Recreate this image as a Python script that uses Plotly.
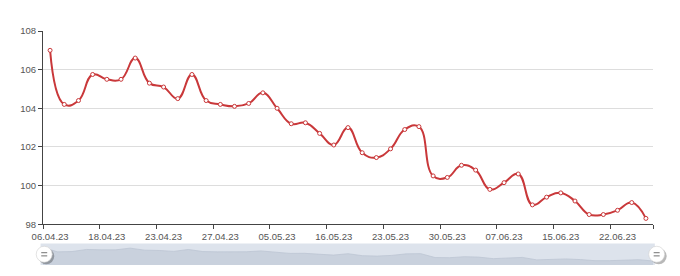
import plotly.graph_objects as go

dates = ["06.04.23", "10.04.23", "12.04.23", "14.04.23", "18.04.23", "19.04.23", "20.04.23",
         "21.04.23", "23.04.23", "24.04.23", "25.04.23", "26.04.23", "27.04.23", "28.04.23",
         "02.05.23", "03.05.23", "05.05.23", "10.05.23", "11.05.23", "12.05.23", "16.05.23",
         "18.05.23", "19.05.23", "22.05.23", "23.05.23", "24.05.23", "25.05.23", "26.05.23",
         "30.05.23", "01.06.23", "02.06.23", "06.06.23", "07.06.23", "08.06.23", "09.06.23",
         "14.06.23", "15.06.23", "16.06.23", "20.06.23", "21.06.23", "22.06.23", "23.06.23",
         "26.06.23"]
values = [107.0, 104.2, 104.4, 105.75, 105.5, 105.5, 106.6, 105.3, 105.1, 104.5, 105.75,
          104.4, 104.2, 104.1, 104.25, 104.8, 104.0, 103.2, 103.25, 102.7, 102.1, 103.0,
          101.7, 101.45, 101.9, 102.9, 103.05, 100.5, 100.42, 101.05, 100.8, 99.8, 100.15,
          100.6, 99.0, 99.4, 99.62, 99.2, 98.5, 98.5, 98.72, 99.12, 98.3]
y_ticks = [98, 100, 102, 104, 106, 108]
label_step = 4

n = len(values)
idx = list(range(n))
LINE = "#c9383a"
TXT = "#555555"
AX = "#444444"
FONT = dict(family="Liberation Sans, Arial, sans-serif", size=9.5, color=TXT)

fig = go.Figure()
fig.add_trace(go.Scatter(
    x=idx, y=values, mode="lines+markers",
    line=dict(color=LINE, width=2, shape="spline", smoothing=1.3),
    marker=dict(size=4, color="white", line=dict(color=LINE, width=1)),
    xaxis="x", yaxis="y", hoverinfo="skip", showlegend=False))

# data shadow for the zoom slider
vmin, vmax = min(values), max(values)
pad = (vmax - vmin) * 0.3
fig.add_trace(go.Scatter(
    x=idx, y=values, mode="lines", fill="tozeroy",
    line=dict(color="#bcc5d3", width=0.8), fillcolor="#c9d1dd",
    xaxis="x2", yaxis="y2", hoverinfo="skip", showlegend=False))

boundaries = [i - 0.5 for i in range(0, n, label_step)] + [n - 0.5]

H = 276
T, B = 31, 11
ph = H - T - B
main_bottom = (H - B - 224.2) / ph
sl_top = (H - B - 243.5) / ph

fig.update_layout(
    width=680, height=H, autosize=False,
    margin=dict(l=43, r=27, t=T, b=B, pad=0, autoexpand=False),
    paper_bgcolor="white", plot_bgcolor="white",
    font=FONT,
    xaxis=dict(
        domain=[0, 1], anchor="y", automargin=False,
        range=[-0.5, n - 0.5],
        tickmode="array", tickvals=idx[::label_step], ticktext=dates[::label_step],
        ticks="", showgrid=False, zeroline=False,
        showline=True, linecolor=AX, linewidth=1,
        tickfont=FONT, ticklabelstandoff=3,
        minor=dict(tickmode="array", tickvals=boundaries, ticks="outside",
                   ticklen=4, tickcolor=AX, tickwidth=1, showgrid=False),
    ),
    yaxis=dict(
        domain=[main_bottom, 1], anchor="x", automargin=False,
        range=[98, 108], tickmode="array", tickvals=y_ticks,
        ticks="outside", ticklen=4, tickcolor=AX,
        showgrid=True, gridcolor="#dddddd", gridwidth=1,
        zeroline=False, showline=True, linecolor=AX, linewidth=1,
        tickfont=FONT,
    ),
    xaxis2=dict(domain=[0, 1], anchor="y2", range=[0, n - 1], automargin=False,
                visible=False, fixedrange=True),
    yaxis2=dict(domain=[0, sl_top], anchor="x2", range=[vmin - pad, vmax + pad],
                automargin=False, visible=False, fixedrange=True),
)

# slider background
shapes = [dict(type="rect", xref="paper", yref="paper", x0=-0.004, x1=1.003, y0=0, y1=sl_top,
               fillcolor="#dde3ec", line=dict(width=0), layer="below")]
hy = sl_top / 2
for hx in (0.002, 1.006):
    shapes.append(dict(type="circle", xref="paper", yref="paper",
                       xsizemode="pixel", ysizemode="pixel", xanchor=hx, yanchor=hy,
                       x0=-6, x1=10, y0=-10, y1=6,
                       fillcolor="rgba(0,0,0,0.28)", line=dict(width=0)))
    shapes.append(dict(type="circle", xref="paper", yref="paper",
                       xsizemode="pixel", ysizemode="pixel", xanchor=hx, yanchor=hy,
                       x0=-8, x1=8, y0=-8, y1=8,
                       fillcolor="white", line=dict(color="#d0d0d0", width=0.6)))
    for dy in (-1.6, 1.6):
        shapes.append(dict(type="line", xref="paper", yref="paper",
                           xsizemode="pixel", ysizemode="pixel", xanchor=hx, yanchor=hy,
                           x0=-3, x1=3, y0=dy, y1=dy,
                           line=dict(color="#8a8a8a", width=1.2)))
fig.update_layout(shapes=shapes)

fig.write_html("out.html")
